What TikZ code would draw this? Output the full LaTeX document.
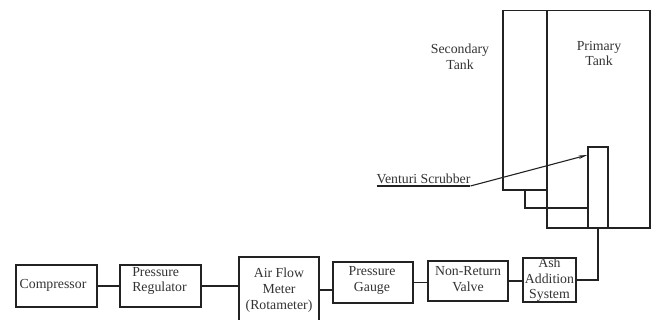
\documentclass[tikz,border=0pt]{standalone}
\usepackage{fontspec}
\setmainfont{Liberation Serif}
\usetikzlibrary{arrows.meta}
\definecolor{ink}{HTML}{222222}
\definecolor{txt}{HTML}{333333}
\tikzset{
  x=1pt,y=-1pt,
  box/.style={draw=ink,line width=1.5pt,inner sep=0pt,outer sep=0pt,rectangle,font=\fontsize{13.8}{15.7}\selectfont,text=txt,align=center},
  tx/.style={inner sep=0pt,outer sep=0pt,font=\fontsize{13.8}{15.7}\selectfont,text=txt,align=center},
  wire/.style={draw=ink,line width=1.5pt},
  thin wire/.style={draw=ink,line width=1.1pt}
}
\begin{document}
\begin{tikzpicture}
\useasboundingbox (0,0) rectangle (653,320);
% tanks
\node[box,minimum width=44pt,minimum height=179.3pt] (secondary) at (525,100.35) {};
\node[box,minimum width=103pt,minimum height=217.3pt] (primary) at (598.5,119.35) {};
\node[box,minimum width=20pt,minimum height=81pt] (venturi) at (598,187.5) {};
\node[tx] (sectext) at (460,56.5) {Secondary\\Tank};
\node[tx] (pritext) at (599,53.5) {Primary\\Tank};
% process chain
\node[box,minimum width=81pt,minimum height=42pt] (comp) at (56.5,286) {};
\node[tx] (comptext) at (53,285.5) {Compressor};
\node[box,minimum width=81pt,minimum height=42pt] (reg) at (160.5,286) {};
\node[tx,align=left] (regtext) at (159.5,281) {Pressure\\Regulator};
\node[box,minimum width=80pt,minimum height=66pt] (air) at (279,290) {Air Flow\\Meter\\(Rotameter)};
\node[box,minimum width=80pt,minimum height=41pt] (gauge) at (373,282.5) {};
\node[tx] (gaugetext) at (372,280.5) {Pressure\\Gauge};
\node[box,minimum width=80pt,minimum height=40pt] (valve) at (468,281) {};
\node[tx] (valvetext) at (468,279) {Non-Return\\Valve};
\node[box,minimum width=53pt,minimum height=44pt] (ash) at (549.5,280) {Ash\\Addition\\System};
% connectors
\draw[wire] (comp.east) -- (comp.east -| reg.west);
\draw[wire] (reg.east) -- (reg.east -| air.west);
\draw[wire] (air.east) -- (air.east -| gauge.west);
\draw[wire] (gauge.east) -- (gauge.east -| valve.west);
\draw[thin wire] (valve.east) -- (valve.east -| ash.west);
\draw[wire] (ash.east) -| (venturi.south);
% tank links
\coordinate (linka) at (525,190);
\coordinate (linkb) at (588,208);
\draw[wire] (linka) |- (linkb);
% venturi label
\node[tx,anchor=south] (vlabel) at (423.5,186) {\vphantom{g}Venturi Scrubber};
\coordinate (vtip) at (587.5,155);
\draw[wire] (vlabel.south west) -- (vlabel.south east);
\draw[thin wire,-{Stealth[length=9pt,width=3.5pt]}] (vlabel.south east) -- (vtip);
\end{tikzpicture}
\end{document}
